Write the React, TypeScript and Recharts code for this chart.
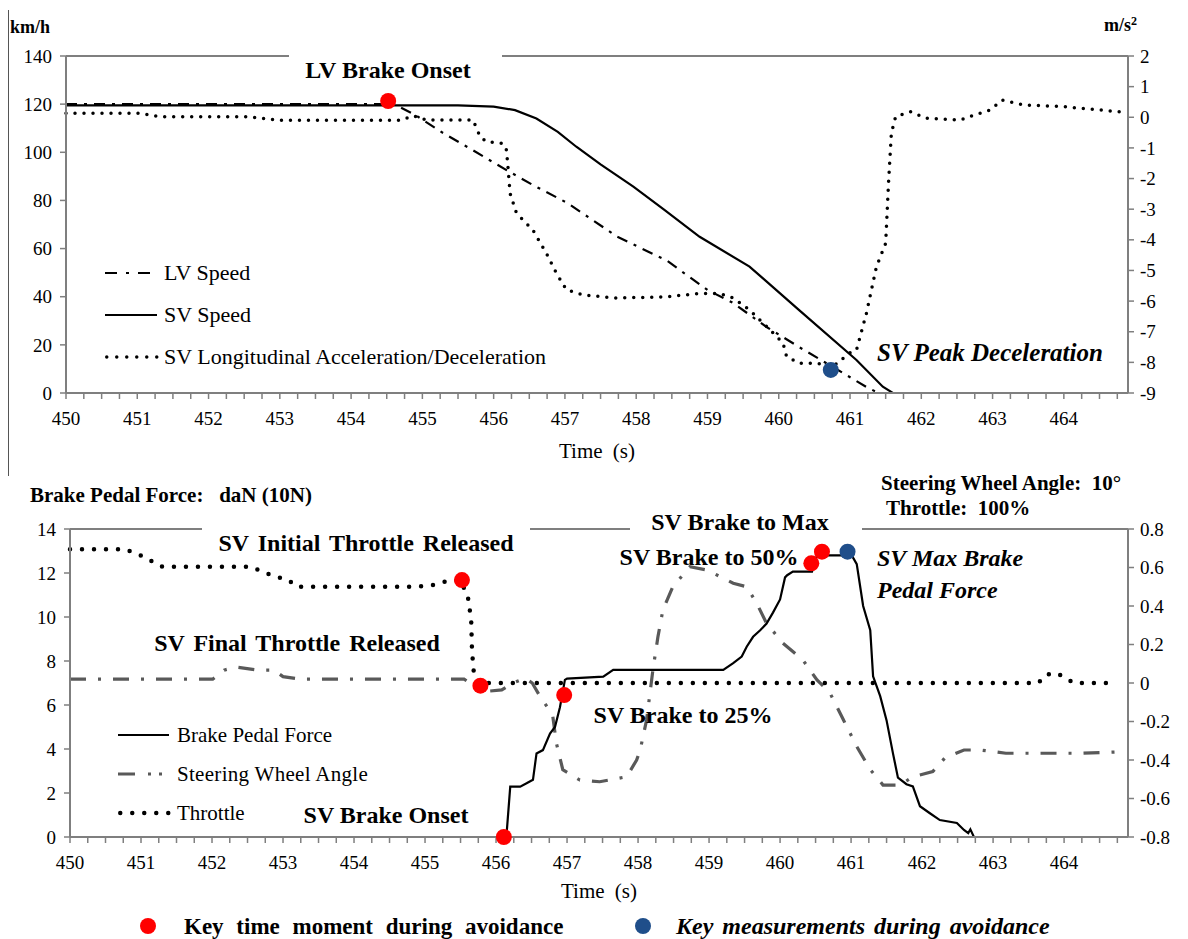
import React from "react";
import { ComposedChart, Line, XAxis, YAxis, ReferenceLine } from "recharts";

const FONT = "'Liberation Serif', 'Times New Roman', Times, serif";
const AXIS = "#7f7f7f";
const RED = "#ff0000";
const BLUE = "#1f4e8a";

// ---------- top panel: speed (km/h, left) and SV acceleration (m/s2, right)
const lvSpeedT = [450, 451, 452, 453, 454, 454.6, 454.9, 455.29, 455.7, 456.18, 456.55, 457.03, 457.73, 458.43, 459.0, 459.36, 459.83, 460.29, 460.76, 461.23, 461.4, 462.5, 463.5, 464.9];
const lvSpeedV = [120, 120, 120, 120, 120, 120, 115.5, 108, 101, 92.6, 86.4, 79, 65, 55, 42.8, 37.4, 27.4, 19, 10.8, 2.5, 0, 0, 0, 0];

const svSpeedT = [450, 452, 454, 455.5, 456.0, 456.3, 456.6, 456.9, 457.16, 457.5, 457.96, 458.4, 458.89, 459.59, 460.29, 461.09, 461.46, 461.6, 462.5, 463.5, 464.9];
const svSpeedV = [119.5, 119.5, 119.5, 119.5, 119, 117.5, 114, 108.5, 102.3, 95, 85.7, 76, 64.9, 52.5, 34.3, 13.7, 2.6, 0, 0, 0, 0];

const svAccT = [450, 451.05, 451.3, 452.55, 453.0, 454.7, 454.87, 455.06, 455.71, 455.81, 455.9, 456.13, 456.18, 456.2, 456.23, 456.32, 456.55, 456.74, 456.88, 457.02, 457.26, 457.72, 458.42, 458.89, 459.17, 459.36, 459.59, 459.83, 460.06, 460.11, 460.29, 460.53, 460.76, 460.99, 461.09, 461.23, 461.37, 461.5, 461.54, 461.58, 461.64, 461.85, 462.06, 462.55, 462.65, 462.97, 463.13, 463.45, 463.98, 464.78, 464.9];
const svAccV = [0.13, 0.13, 0.02, 0.02, -0.1, -0.1, 0.05, -0.09, -0.09, -0.63, -0.8, -0.85, -1.07, -1.6, -2.48, -3.13, -3.68, -4.44, -5.09, -5.63, -5.8, -5.9, -5.86, -5.75, -5.75, -5.9, -6.29, -6.83, -7.37, -7.81, -8.03, -8.03, -8.14, -7.7, -7.6, -6.4, -4.88, -4.11, -2.15, -0.52, 0.02, 0.18, -0.03, -0.09, 0.0, 0.24, 0.56, 0.4, 0.35, 0.18, 0.17];

const topKeyT = [454.52];
const topKeyV = [121.3];
const topMeasT = [460.73];
const topMeasV = [9.6];

const speedTicks = [0, 20, 40, 60, 80, 100, 120, 140];
const accTicks = [-9, -8, -7, -6, -5, -4, -3, -2, -1, 0, 1, 2];

// ---------- bottom panel: brake force (daN, left), steering (10 deg) and throttle (100%) (right)
const brakeT = [450, 456.1, 456.15, 456.2, 456.34, 456.43, 456.52, 456.57, 456.66, 456.76, 456.83, 456.9, 456.97, 457.0, 457.51, 457.65, 459.2, 459.34, 459.46, 459.53, 459.62, 459.72, 459.81, 459.9, 460.0, 460.07, 460.1, 460.18, 460.45, 460.52, 461.01, 461.08, 461.17, 461.27, 461.31, 461.41, 461.5, 461.59, 461.66, 461.78, 461.87, 461.97, 462.11, 462.25, 462.49, 462.59, 462.65, 462.68, 462.73, 464.9];
const brakeF = [0, 0, 0.2, 2.29, 2.29, 2.44, 2.6, 3.8, 3.95, 4.7, 5.0, 5.9, 7.14, 7.2, 7.29, 7.6, 7.6, 7.9, 8.2, 8.65, 9.1, 9.4, 9.7, 10.2, 10.8, 11.8, 11.9, 12.06, 12.06, 12.8, 12.8, 12.4, 10.5, 9.4, 7.3, 6.4, 5.3, 3.8, 2.7, 2.4, 2.3, 1.4, 1.08, 0.77, 0.64, 0.32, 0.18, 0.35, 0, 0];

const steerT = [450, 452.01, 452.17, 452.34, 452.65, 452.87, 453.0, 453.24, 455.55, 455.82, 456.08, 456.24, 456.41, 456.51, 456.62, 456.75, 456.8, 456.85, 456.94, 457.18, 457.46, 457.84, 457.98, 458.03, 458.12, 458.21, 458.28, 458.35, 458.49, 458.73, 458.97, 459.34, 459.53, 459.67, 459.81, 460.04, 460.32, 460.52, 460.7, 460.89, 461.08, 461.27, 461.45, 461.69, 461.87, 462.15, 462.32, 462.59, 462.82, 463.18, 464.25, 464.85];
const steerV = [0.02, 0.02, 0.067, 0.083, 0.067, 0.067, 0.033, 0.02, 0.02, -0.045, -0.036, 0.0, 0.025, 0.0, -0.07, -0.14, -0.175, -0.313, -0.45, -0.504, -0.513, -0.487, -0.4, -0.348, -0.192, 0.07, 0.24, 0.38, 0.5, 0.604, 0.587, 0.518, 0.5, 0.415, 0.31, 0.207, 0.12, 0.016, -0.05, -0.19, -0.33, -0.45, -0.53, -0.53, -0.487, -0.46, -0.39, -0.348, -0.348, -0.365, -0.365, -0.357];

const throttleT = [450, 450.78, 450.89, 451.05, 451.21, 451.3, 452.55, 452.7, 452.87, 453.08, 453.19, 454.9, 455.12, 455.28, 455.49, 455.6, 455.65, 455.66, 455.68, 455.75, 455.9, 463.64, 463.72, 463.88, 464.01, 464.13, 464.69];
const throttleV = [0.695, 0.695, 0.677, 0.655, 0.62, 0.604, 0.604, 0.58, 0.556, 0.535, 0.5, 0.5, 0.51, 0.526, 0.535, 0.457, 0.327, 0.19, 0.07, 0, 0, 0, 0.04, 0.053, 0.03, 0, 0];

const botKeyT = [455.52, 455.78, 456.11, 456.96, 460.44, 460.59];
const botKeyV = [11.68, 6.88, 0, 6.45, 12.44, 12.97];
const botMeasT = [460.95];
const botMeasV = [12.97];

const forceTicks = [0, 2, 4, 6, 8, 10, 12, 14];
const ratioTicks = [-0.8, -0.6, -0.4, -0.2, 0, 0.2, 0.4, 0.6, 0.8];

// x ticks every quarter second, labelled on whole seconds
const timeTicks: number[] = [];
for (let i = 0; i <= 59; i++) timeTicks.push(450 + i * 0.25);

const zip = (t: number[], v: number[]) => t.map((x, i) => ({ t: x, v: v[i] }));

const axisLine = { stroke: AXIS, strokeWidth: 2 };
const tickLine = { stroke: AXIS, strokeWidth: 1.5 };

const timeFmt = (v: number) => (Number.isInteger(v) ? String(v) : "");
const ratioFmt = (v: number) => (v === 0 ? "0" : v.toFixed(1));

// tick text in the serif face of the figure
function makeTick(kind: "x" | "left" | "right", fmt?: (v: number) => string) {
  return (p: any) => {
    const val = p.payload.value;
    const s = fmt ? fmt(val) : String(val);
    if (!s) return <g />;
    const anchor = kind === "x" ? "middle" : kind === "left" ? "end" : "start";
    const dy = kind === "x" ? "0.75em" : "0.35em";
    return (
      <text
        x={p.x}
        y={p.y}
        dy={dy}
        textAnchor={anchor}
        fill="#000"
        style={{ fontFamily: FONT, fontSize: 19 }}
      >
        {s}
      </text>
    );
  };
}

function Txt(props: {
  x: number;
  y: number;
  size?: number;
  bold?: boolean;
  italic?: boolean;
  center?: boolean;
  ws?: number;
  ls?: number;
  children: React.ReactNode;
}) {
  const { x, y, size = 24, bold = true, italic = false, center = false, ws = 0, ls = 0 } = props;
  return (
    <div
      style={{
        position: "absolute",
        left: x,
        top: y,
        transform: `translate(${center ? "-50%" : "0"}, -50%)`,
        fontSize: size,
        fontWeight: bold ? "bold" : "normal",
        fontStyle: italic ? "italic" : "normal",
        lineHeight: 1,
        whiteSpace: "pre",
        wordSpacing: ws,
        letterSpacing: ls,
      }}
    >
      {props.children}
    </div>
  );
}

function Sample(props: { x: number; y: number; len: number; dash?: string; w: number; color: string; round?: boolean }) {
  const { x, y, len, dash, w, color, round } = props;
  return (
    <svg style={{ position: "absolute", left: x, top: y - 6 }} width={len + 4} height={12}>
      <line
        x1={round ? w / 2 : 0}
        y1={6}
        x2={len}
        y2={6}
        stroke={color}
        strokeWidth={w}
        strokeDasharray={dash}
        strokeLinecap={round ? "round" : "butt"}
      />
    </svg>
  );
}

function Mask(props: { x1: number; x2: number; y: number }) {
  return (
    <div
      style={{
        position: "absolute",
        left: props.x1,
        width: props.x2 - props.x1,
        top: props.y - 5,
        height: 10,
        background: "#fff",
      }}
    />
  );
}

export default function App() {
  return (
    <div
      style={{
        position: "absolute",
        left: 0,
        top: 0,
        width: 1188,
        height: 939,
        background: "#fff",
        fontFamily: FONT,
        color: "#000",
        overflow: "hidden",
      }}
    >
      {/* ---------------- top panel ---------------- */}
      <div style={{ position: "absolute", left: 0, top: 0 }}>
        <ComposedChart width={1188} height={470} margin={{ top: 56, right: 10, bottom: 47, left: 16 }}>
          <XAxis
            dataKey="t"
            type="number"
            domain={[450, 464.9]}
            ticks={timeTicks}
            interval={0}
            tick={makeTick("x", timeFmt)}
            tickSize={6}
            tickMargin={12}
            axisLine={axisLine}
            tickLine={tickLine}
            height={30}
          />
          <YAxis
            yAxisId="left"
            domain={[0, 140]}
            ticks={speedTicks}
            interval={0}
            tick={makeTick("left")}
            tickSize={6}
            tickMargin={8}
            axisLine={axisLine}
            tickLine={tickLine}
            width={50}
          />
          <YAxis
            yAxisId="right"
            orientation="right"
            domain={[-9, 2]}
            ticks={accTicks}
            interval={0}
            tick={makeTick("right")}
            tickSize={6}
            tickMargin={6}
            axisLine={axisLine}
            tickLine={tickLine}
            width={50}
          />
          <ReferenceLine yAxisId="left" y={140} stroke={AXIS} strokeWidth={2} />
          <Line
            data={zip(svAccT, svAccV)}
            dataKey="v"
            yAxisId="right"
            type="linear"
            stroke="#000"
            strokeWidth={3.5}
            strokeDasharray="0 9"
            strokeLinecap="round"
            dot={false}
            isAnimationActive={false}
          />
          <Line
            data={zip(lvSpeedT, lvSpeedV)}
            dataKey="v"
            yAxisId="left"
            type="linear"
            stroke="#000"
            strokeWidth={2.2}
            strokeDasharray="11 7 3 7"
            dot={false}
            isAnimationActive={false}
          />
          <Line
            data={zip(svSpeedT, svSpeedV)}
            dataKey="v"
            yAxisId="left"
            type="linear"
            stroke="#000"
            strokeWidth={2.2}
            dot={false}
            isAnimationActive={false}
          />
          <Line
            data={zip(topKeyT, topKeyV)}
            dataKey="v"
            yAxisId="left"
            stroke="none"
            dot={{ r: 8, fill: RED, stroke: "none" }}
            isAnimationActive={false}
          />
          <Line
            data={zip(topMeasT, topMeasV)}
            dataKey="v"
            yAxisId="left"
            stroke="none"
            dot={{ r: 8, fill: BLUE, stroke: "none" }}
            isAnimationActive={false}
          />
        </ComposedChart>
      </div>

      <div style={{ position: "absolute", left: 8, top: 10, width: 1, height: 466, background: "#555" }} />
      <Mask x1={289} x2={502} y={56} />
      <Txt x={10} y={27} size={18}>km/h</Txt>
      <Txt x={1104} y={24} size={18}>
        m/s<sup style={{ fontSize: 12, verticalAlign: "6px" }}>2</sup>
      </Txt>
      <Txt x={388} y={70} center>LV Brake Onset</Txt>
      <Txt x={877} y={352} size={25} italic>SV Peak Deceleration</Txt>
      <Txt x={597} y={451} size={21} bold={false} center ws={5}>Time (s)</Txt>

      <Sample x={105} y={273} len={52} dash="12 9 3 9" w={2.2} color="#000" />
      <Txt x={164} y={273} size={22} bold={false}>LV Speed</Txt>
      <Sample x={105} y={315} len={52} w={2.2} color="#000" />
      <Txt x={164} y={315} size={22} bold={false}>SV Speed</Txt>
      <Sample x={105} y={357} len={52} dash="0 10" w={3.5} color="#000" round />
      <Txt x={164} y={357} size={22} bold={false}>SV Longitudinal Acceleration/Deceleration</Txt>

      {/* ---------------- bottom panel ---------------- */}
      <div style={{ position: "absolute", left: 0, top: 470 }}>
        <ComposedChart width={1188} height={469} margin={{ top: 59, right: 10, bottom: 72, left: 20 }}>
          <XAxis
            dataKey="t"
            type="number"
            domain={[450, 464.9]}
            ticks={timeTicks}
            interval={0}
            tick={makeTick("x", timeFmt)}
            tickSize={6}
            tickMargin={12}
            axisLine={axisLine}
            tickLine={tickLine}
            height={30}
          />
          <YAxis
            yAxisId="left"
            domain={[0, 14]}
            ticks={forceTicks}
            interval={0}
            tick={makeTick("left")}
            tickSize={6}
            tickMargin={8}
            axisLine={axisLine}
            tickLine={tickLine}
            width={50}
          />
          <YAxis
            yAxisId="right"
            orientation="right"
            domain={[-0.8, 0.8]}
            ticks={ratioTicks}
            interval={0}
            tick={makeTick("right", ratioFmt)}
            tickSize={6}
            tickMargin={6}
            axisLine={axisLine}
            tickLine={tickLine}
            width={50}
          />
          <ReferenceLine yAxisId="left" y={14} stroke={AXIS} strokeWidth={2} />
          <Line
            data={zip(steerT, steerV)}
            dataKey="v"
            yAxisId="right"
            type="linear"
            stroke="#595959"
            strokeWidth={3.2}
            strokeDasharray="16 12 3 12"
            dot={false}
            isAnimationActive={false}
          />
          <Line
            data={zip(throttleT, throttleV)}
            dataKey="v"
            yAxisId="right"
            type="linear"
            stroke="#000"
            strokeWidth={4.5}
            strokeDasharray="0 12"
            strokeLinecap="round"
            dot={false}
            isAnimationActive={false}
          />
          <Line
            data={zip(brakeT, brakeF)}
            dataKey="v"
            yAxisId="left"
            type="linear"
            stroke="#000"
            strokeWidth={2.2}
            dot={false}
            isAnimationActive={false}
          />
          <Line
            data={zip(botKeyT, botKeyV)}
            dataKey="v"
            yAxisId="left"
            stroke="none"
            dot={{ r: 8, fill: RED, stroke: "none" }}
            isAnimationActive={false}
          />
          <Line
            data={zip(botMeasT, botMeasV)}
            dataKey="v"
            yAxisId="left"
            stroke="none"
            dot={{ r: 8, fill: BLUE, stroke: "none" }}
            isAnimationActive={false}
          />
        </ComposedChart>
      </div>

      <Mask x1={202} x2={530} y={529} />
      <Mask x1={630} x2={862} y={529} />
      <Txt x={30} y={495} size={21}>Brake Pedal Force:   daN (10N)</Txt>
      <Txt x={881} y={483} size={21}>Steering Wheel Angle:  10°</Txt>
      <Txt x={886} y={508} size={21}>Throttle:  100%</Txt>
      <Txt x={366} y={543} center ws={3}>SV Initial Throttle Released</Txt>
      <Txt x={297} y={643} center ws={3}>SV Final Throttle Released</Txt>
      <Txt x={386} y={815} center>SV Brake Onset</Txt>
      <Txt x={683} y={715} center>SV Brake to 25%</Txt>
      <Txt x={740} y={522} center>SV Brake to Max</Txt>
      <Txt x={709} y={557} center>SV Brake to 50%</Txt>
      <Txt x={877} y={558} italic>SV Max Brake</Txt>
      <Txt x={877} y={590} italic>Pedal Force</Txt>
      <Txt x={599} y={891} size={21} bold={false} center ws={5}>Time (s)</Txt>

      <Sample x={118} y={735} len={51} w={2.2} color="#000" />
      <Txt x={177} y={735} size={21} bold={false}>Brake Pedal Force</Txt>
      <Sample x={118} y={774} len={51} dash="17 13 3 8 3 8" w={3.2} color="#595959" />
      <Txt x={177} y={774} size={21} bold={false} ls={0.3}>Steering Wheel Angle</Txt>
      <Sample x={118} y={813} len={51} dash="0 12" w={4.5} color="#000" round />
      <Txt x={177} y={813} size={21} bold={false}>Throttle</Txt>

      <div style={{ position: "absolute", left: 140, top: 918, width: 16, height: 16, borderRadius: 8, background: RED }} />
      <Txt x={184} y={926} size={23} ws={7}>Key time moment during avoidance</Txt>
      <div style={{ position: "absolute", left: 635, top: 918, width: 16, height: 16, borderRadius: 8, background: BLUE }} />
      <Txt x={676} y={926} size={24} italic ws={3}>Key measurements during avoidance</Txt>
    </div>
  );
}
